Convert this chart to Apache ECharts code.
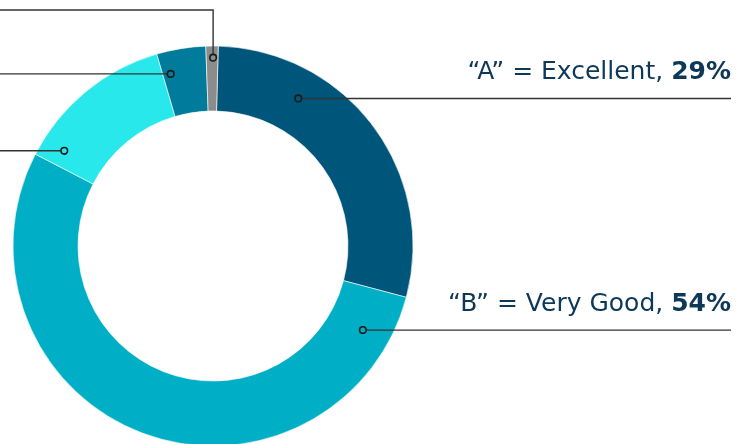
<!DOCTYPE html>
<html>
<head>
<meta charset="utf-8">
<script src="https://cdn.jsdelivr.net/npm/echarts@6/dist/echarts.min.js"></script>
<style>
  html, body { margin: 0; padding: 0; background: #ffffff; }
  #chart { width: 736px; height: 444px; }
</style>
</head>
<body>
<div id="chart"></div>
<script>
// Grade distribution (percent of responses)
const grades = ['“A” = Excellent', '“B” = Very Good', '“C” = Good', '“D” = Fair', '“F” = Poor'];
const shares = [29, 54, 13, 4, 1];
const sliceColors = ['#00557a', '#00afc5', '#28e8ec', '#007b9c', '#8c8c8c'];

// Leader-line anchors: position along the slice (0..1) and depth within the ring (0..1)
const callouts = [
  { along: 0.276, depth: 0.545, side: 'right' },
  { along: 0.075, depth: 0.567, side: 'right' },
  { along: 0.114, depth: 0.64,  side: 'left' },
  { along: 0.175, depth: 0.65,  side: 'left' },
  { along: 0.59,  depth: 0.82,  side: 'up' }
];

const TEXT = '#0d3857';
const LINE = '#333333';
const FONT = '"DejaVu Sans", "Noto Sans", sans-serif';

const chart = echarts.init(document.getElementById('chart'), null, { renderer: 'canvas' });

chart.setOption({
  animation: false,
  series: [{
    type: 'pie',
    center: [213, 246],
    radius: [135, 200],
    startAngle: 88.5,
    clockwise: true,
    silent: true,
    label: { show: false },
    labelLine: { show: false },
    itemStyle: { borderColor: '#ffffff', borderWidth: 0.6 },
    data: grades.map((g, i) => ({ name: g, value: shares[i], itemStyle: { color: sliceColors[i] } }))
  }]
});

// Leader lines, anchor dots and captions, placed from the pie's own layout
const pieData = chart.getModel().getSeriesByIndex(0).getData();
const W = chart.getWidth();
const RIGHT_EDGE = W - 5;
const elements = [];

callouts.forEach((c, i) => {
  const L = pieData.getItemLayout(i);
  const ang = L.startAngle + c.along * (L.endAngle - L.startAngle);
  const rr = L.r0 + c.depth * (L.r - L.r0);
  const x = L.cx + rr * Math.cos(ang);
  const y = L.cy + rr * Math.sin(ang);
  let pts;
  if (c.side === 'right') {
    pts = [[x + 3.5, y], [RIGHT_EDGE, y]];
  } else if (c.side === 'left') {
    pts = [[x - 3.5, y], [-2, y]];
  } else {
    pts = [[x, y - 3.5], [x, 10], [-2, 10]];
  }
  elements.push({
    type: 'polyline',
    shape: { points: pts },
    style: { stroke: LINE, lineWidth: 1.4, fill: null },
    z: 10
  });
  elements.push({
    type: 'circle',
    shape: { cx: x, cy: y, r: 3.3 },
    style: { stroke: '#1a1a1a', lineWidth: 1.6, fill: null },
    z: 11
  });
  if (c.side === 'right') {
    elements.push({
      type: 'text',
      x: RIGHT_EDGE,
      y: y - 26,
      style: {
        text: '{n|' + grades[i] + ', }{v|' + shares[i] + '%}',
        align: 'right',
        verticalAlign: 'middle',
        rich: {
          n: { fontFamily: FONT, fontSize: 25, fontWeight: 400, fill: TEXT },
          v: { fontFamily: FONT, fontSize: 25, fontWeight: 700, fill: TEXT }
        }
      },
      z: 12
    });
  }
});

chart.setOption({ graphic: { elements: elements } });
</script>
</body>
</html>
